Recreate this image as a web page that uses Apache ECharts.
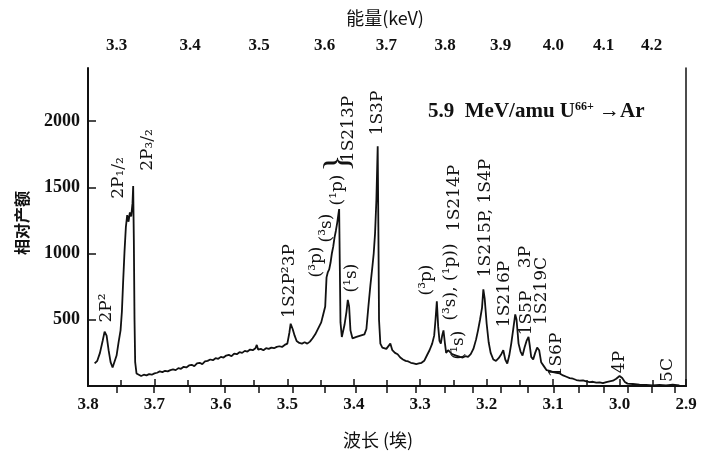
<!DOCTYPE html>
<html>
<head>
<meta charset="utf-8">
<script src="https://cdn.jsdelivr.net/npm/echarts@6/dist/echarts.min.js"></script>
<style>
  html, body { margin: 0; padding: 0; background: #fff; }
  #chart { width: 701px; height: 457px; }
</style>
</head>
<body>
<div id="chart"></div>
<script>
// 波长 (Å) 与相对产额
var spectrum = [
  [3.790, 170], [3.786, 190], [3.782, 250], [3.778, 340], [3.775, 410], [3.772, 380],
  [3.769, 270], [3.766, 180], [3.763, 140], [3.760, 150], [3.757, 230], [3.754, 330],
  [3.751, 420], [3.749, 560], [3.747, 800], [3.745, 1020], [3.743, 1200], [3.741, 1290],
  [3.739, 1240], [3.737, 1310], [3.735, 1280], [3.733, 1380], [3.732, 1510], [3.731, 1100],
  [3.730, 500], [3.729, 180], [3.727, 95], [3.724, 80], [3.720, 75], [3.716, 85],
  [3.712, 80], [3.708, 90], [3.704, 85], [3.700, 95], [3.696, 100], [3.692, 110],
  [3.688, 105], [3.684, 115], [3.680, 110], [3.676, 120], [3.672, 125], [3.668, 120],
  [3.664, 135], [3.660, 130], [3.656, 145], [3.652, 140], [3.648, 155], [3.644, 160],
  [3.640, 150], [3.636, 170], [3.632, 175], [3.628, 165], [3.624, 185], [3.620, 190],
  [3.616, 200], [3.612, 195], [3.608, 210], [3.604, 205], [3.600, 220], [3.596, 215],
  [3.592, 230], [3.588, 235], [3.584, 225], [3.580, 245], [3.576, 240], [3.572, 255],
  [3.568, 250], [3.564, 265], [3.560, 260], [3.556, 275], [3.552, 270], [3.548, 285],
  [3.546, 310], [3.544, 275], [3.540, 280], [3.536, 270], [3.532, 285], [3.528, 280],
  [3.524, 290], [3.520, 285], [3.516, 295], [3.512, 300], [3.508, 295], [3.504, 310],
  [3.500, 320], [3.497, 400], [3.495, 470], [3.492, 430], [3.489, 380], [3.486, 340],
  [3.482, 325], [3.478, 320], [3.474, 330], [3.470, 320], [3.466, 335], [3.462, 360],
  [3.458, 390], [3.455, 420], [3.452, 450], [3.449, 480], [3.446, 540], [3.443, 600],
  [3.441, 820], [3.439, 860], [3.437, 880], [3.435, 930], [3.433, 1000], [3.431, 1050],
  [3.429, 1120], [3.427, 1170], [3.425, 1230], [3.423, 1300], [3.422, 1335], [3.421, 900],
  [3.420, 480], [3.418, 370], [3.416, 380], [3.414, 460], [3.411, 560], [3.409, 650],
  [3.407, 600], [3.405, 420], [3.402, 360], [3.399, 345], [3.396, 370], [3.393, 355],
  [3.390, 380], [3.387, 365], [3.384, 390], [3.381, 430], [3.378, 600], [3.375, 760],
  [3.372, 900], [3.370, 1000], [3.368, 1150], [3.366, 1400], [3.364, 1810], [3.363, 1200],
  [3.362, 500], [3.360, 320], [3.357, 290], [3.354, 300], [3.351, 280], [3.348, 290],
  [3.345, 320], [3.342, 270], [3.338, 250], [3.334, 240], [3.330, 215], [3.326, 200],
  [3.322, 190], [3.318, 185], [3.314, 175], [3.310, 170], [3.306, 165], [3.302, 170],
  [3.298, 175], [3.294, 190], [3.290, 230], [3.286, 270], [3.282, 320], [3.279, 380],
  [3.277, 500], [3.275, 640], [3.273, 450], [3.271, 340], [3.269, 320], [3.267, 380],
  [3.265, 420], [3.263, 330], [3.261, 250], [3.258, 270], [3.255, 260], [3.252, 240],
  [3.249, 255], [3.246, 230], [3.243, 235], [3.240, 220], [3.236, 215], [3.232, 225],
  [3.228, 220], [3.224, 240], [3.220, 280], [3.216, 350], [3.213, 420], [3.210, 500],
  [3.207, 590], [3.205, 730], [3.203, 660], [3.200, 470], [3.197, 330], [3.194, 250],
  [3.190, 200], [3.186, 190], [3.182, 210], [3.178, 240], [3.175, 270], [3.172, 200],
  [3.169, 170], [3.166, 230], [3.163, 320], [3.160, 430], [3.157, 540], [3.155, 500],
  [3.152, 320], [3.149, 260], [3.146, 230], [3.143, 290], [3.140, 340], [3.137, 370],
  [3.135, 300], [3.133, 220], [3.130, 200], [3.127, 250], [3.124, 290], [3.121, 270],
  [3.118, 180], [3.114, 150], [3.110, 120], [3.105, 115], [3.100, 105], [3.095, 100],
  [3.090, 95], [3.085, 80], [3.080, 70], [3.075, 60], [3.070, 55], [3.065, 45],
  [3.060, 40], [3.055, 42], [3.050, 35], [3.045, 30], [3.040, 32], [3.035, 25],
  [3.030, 28], [3.025, 22], [3.020, 30], [3.015, 35], [3.010, 40], [3.005, 55],
  [3.000, 75], [2.996, 60], [2.992, 30], [2.988, 18], [2.980, 15], [2.970, 10],
  [2.960, 8], [2.950, 5], [2.940, 8], [2.930, 5], [2.920, 10], [2.910, 5]
];

var yTicks = [500, 1000, 1500, 2000];
var energyLabels = [3.3, 3.4, 3.5, 3.6, 3.7, 3.8, 3.9, 4.0, 4.1, 4.2]; // keV
var energyTicks = [3.3, 3.35, 3.4, 3.45, 3.5, 3.55, 3.6, 3.65, 3.7, 3.75, 3.8, 3.85,
                   3.9, 3.95, 4.0, 4.05, 4.1, 4.15, 4.2, 4.25];
var HC = 12.398; // keV*Å

// 谱线标注: 文字, 中心 x, 中心 y (像素)
var peakLabels = [
  ['2P²', 107, 308], ['2P₁/₂', 119, 178], ['2P₃/₂', 148, 150],
  ['1S2P²3P', 290, 281], ['(³p)', 317, 262], ['(³s)', 327, 228], ['(¹p)', 338, 190],
  ['1S213P', 349, 129], ['(¹s)', 352, 278], ['1S3P', 378, 113],
  ['(³p)', 427, 280], ['(¹s)', 459, 345], ['(³s), (¹p))', 451, 282], ['1S214P', 455, 198],
  ['1S215P, 1S4P', 486, 218], ['1S216P', 505, 294], ['3P', 526, 257], ['1S5P', 527, 313],
  ['1S219C', 542, 291], ['1S6P', 557, 355], ['4P', 620, 362], ['5C', 668, 370]
];

var serif = '"DejaVu Serif", "Liberation Serif", serif';
var cjk = '"Noto Sans CJK SC", sans-serif';

var graphics = peakLabels.map(function (p) {
  return {
    type: 'text', x: p[1], y: p[2], rotation: Math.PI / 2,
    style: { text: p[0], font: '17px ' + serif, fill: '#111', align: 'center', verticalAlign: 'middle' }
  };
});
graphics.push({
  type: 'text', x: 339, y: 163, rotation: Math.PI / 2,
  style: { text: '}', font: '36px "Liberation Serif"', fill: '#111', align: 'center', verticalAlign: 'middle' }
});
graphics.push({
  type: 'text', x: 385, y: 18,
  style: { text: '能量(keV)', font: '18px ' + cjk, fill: '#111', align: 'center', verticalAlign: 'middle' }
});
graphics.push({
  type: 'text', x: 378, y: 440,
  style: { text: '波长 (埃)', font: '18px ' + cjk, fill: '#111', align: 'center', verticalAlign: 'middle' }
});
graphics.push({
  type: 'text', x: 22, y: 223, rotation: Math.PI / 2,
  style: { text: '相对产额', font: 'bold 16px ' + cjk, fill: '#111', align: 'center', verticalAlign: 'middle' }
});
graphics.push({
  type: 'text', x: 428, y: 112,
  style: {
    text: '{a|5.9  MeV/amu U}{s|66+}{a| →Ar}',
    align: 'left', verticalAlign: 'middle',
    rich: {
      a: { font: 'bold 21px "Liberation Serif"', fill: '#111' },
      s: { font: 'bold 12px "Liberation Serif"', fill: '#111', verticalAlign: 'top', padding: [0, 0, 10, 0] }
    }
  }
});

var chart = echarts.init(document.getElementById('chart'));
chart.setOption({
  animation: false,
  backgroundColor: '#fff',
  grid: { left: 88, right: 15, top: 68, bottom: 71 },
  xAxis: [{
    type: 'value', min: 2.9, max: 3.8, interval: 0.1, inverse: true, position: 'bottom',
    axisLine: { lineStyle: { color: '#111', width: 2 } },
    axisTick: { inside: true, length: 7, lineStyle: { color: '#111', width: 1.5 } },
    minorTick: { show: true, splitNumber: 2, length: 6, lineStyle: { color: '#111', width: 1.5 } },
    splitLine: { show: false },
    axisLabel: {
      margin: 10, color: '#111', fontFamily: 'Liberation Serif', fontWeight: 'bold', fontSize: 17,
      formatter: function (v) { return v.toFixed(1); }
    }
  }, {
    type: 'value', min: 2.9, max: 3.8, inverse: true, position: 'top',
    axisLine: { lineStyle: { color: '#111', width: 2 } },
    axisTick: {
      inside: true, length: 7, lineStyle: { color: '#111', width: 1.5 },
      customValues: energyTicks.map(function (e) { return HC / e; })
    },
    splitLine: { show: false },
    axisLabel: {
      margin: 14, color: '#111', fontFamily: 'Liberation Serif', fontWeight: 'bold', fontSize: 17,
      customValues: energyLabels.map(function (e) { return HC / e; }),
      formatter: function (v) { return (HC / v).toFixed(1); }
    }
  }],
  yAxis: [{
    type: 'value', min: 0, max: 2400, position: 'left',
    axisLine: { show: true, lineStyle: { color: '#111', width: 2 } },
    axisTick: { show: true, inside: true, length: 8, lineStyle: { color: '#111', width: 1.5 }, customValues: yTicks },
    splitLine: { show: false },
    axisLabel: {
      margin: 8, color: '#111', fontFamily: 'Liberation Serif', fontWeight: 'bold', fontSize: 18,
      customValues: yTicks,
      formatter: function (v) { return String(v); }
    }
  }, {
    type: 'value', min: 0, max: 2400, position: 'right',
    axisLine: { show: true, lineStyle: { color: '#111', width: 1.5 } },
    axisTick: { show: false }, axisLabel: { show: false }, splitLine: { show: false }
  }],
  series: [{
    type: 'line', data: spectrum, xAxisIndex: 0, yAxisIndex: 0,
    showSymbol: false, symbol: 'none',
    lineStyle: { color: '#111', width: 1.8 }
  }],
  graphic: graphics
});
</script>
</body>
</html>
